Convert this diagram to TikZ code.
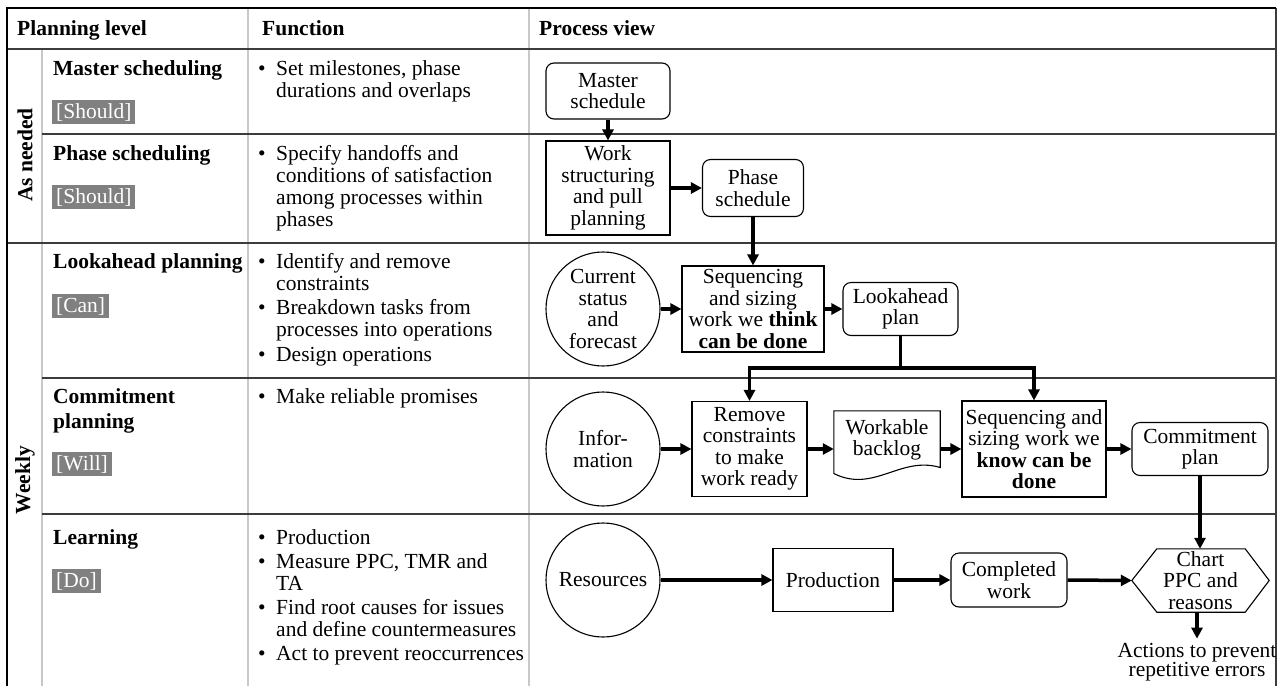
\documentclass[tikz,border=0pt]{standalone}
\usepackage{fontspec}
\setmainfont{Liberation Serif}
\usetikzlibrary{arrows.meta,calc}
\definecolor{tagg}{RGB}{128,128,128}
\definecolor{gridg}{RGB}{200,200,200}
\definecolor{rowl}{RGB}{60,60,60}
\begin{document}
\begin{tikzpicture}[x=1pt,y=-1pt,
  every node/.style={font=\fontsize{21.5}{21.5}\selectfont},
  box/.style={draw, line width=1.1pt, inner sep=0pt, align=center},
  rbox/.style={box, rounded corners=8pt},
  circ/.style={draw, circle, line width=1.1pt, minimum size=114pt, inner sep=0pt, align=center},
  arr/.style={line width=3.5pt, -{Triangle[length=11pt,width=11pt]}},
  bar/.style={line width=3.5pt},
  tagbox/.style={fill=tagg, text=white, inner xsep=4pt, inner ysep=3pt, anchor=west},
  ttl/.style={anchor=base west, inner sep=0pt, font=\fontsize{21.5}{21.5}\selectfont\bfseries},
  fn/.style={anchor=base west, inner sep=0pt},
  rot/.style={rotate=90, inner sep=0pt, font=\fontsize{21.5}{21.5}\selectfont\bfseries}
]
\useasboundingbox (0,0) rectangle (1282,686);
\fill[white] (0,0) rectangle (1282,686);

% grid lines
\draw[gridg, line width=1.5pt] (42,49) -- (42,686);
\draw[gridg, line width=1.5pt] (248,8) -- (248,686);
\draw[gridg, line width=1.5pt] (529,8) -- (529,686);
\draw[rowl, line width=1.5pt] (7,49) -- (1276,49);
\draw[rowl, line width=1.5pt] (42,134) -- (1276,134);
\draw[rowl, line width=1.5pt] (7,243) -- (1276,243);
\draw[rowl, line width=1.5pt] (42,378) -- (1276,378);
\draw[rowl, line width=1.5pt] (42,514) -- (1276,514);
\draw[rowl, line width=1.5pt] (1276,8) -- (1276,686);
\draw[black, line width=2pt] (7,686) -- (7,8) -- (1276,8);

% header
\node[ttl] (h1) at (17,35) {Planning level};
\node[ttl] (h2) at (262,35) {Function};
\node[ttl] (h3) at (539,35) {Process view};

% group labels
\node[rot] (g1) at (25,155) {As needed};
\node[rot] (g2) at (25,480) {Weekly};

% row titles
\node[ttl] (t1) at (53,75) {Master scheduling};
\node[ttl] (t2) at (53,160) {Phase scheduling};
\node[ttl] (t3) at (53,268) {Lookahead planning};
\node[ttl] (t4a) at (53,403) {Commitment};
\node[ttl] (t4b) at (53,428) {planning};
\node[ttl] (t5) at (53,544) {Learning};

% tags
\node[tagbox] (s1) at (52,112) {[Should]};
\node[tagbox] (s2) at (52,197) {[Should]};
\node[tagbox] (s3) at (52,306) {[Can]};
\node[tagbox] (s4) at (52,464) {[Will]};
\node[tagbox] (s5) at (52,581) {[Do]};

% functions
\node[fn] (b1) at (258,75) {•};
\node[fn] (f1a) at (276,75) {Set milestones, phase};
\node[fn] (f1b) at (276,97) {durations and overlaps};

\node[fn] (b2) at (258,160) {•};
\node[fn] (f2a) at (276,160) {Specify handoffs and};
\node[fn] (f2b) at (276,182) {conditions of satisfaction};
\node[fn] (f2c) at (276,204) {among processes within};
\node[fn] (f2d) at (276,226) {phases};

\node[fn] (b3a) at (258,268) {•};
\node[fn] (f3a) at (276,268) {Identify and remove};
\node[fn] (f3b) at (276,290) {constraints};
\node[fn] (b3b) at (258,314) {•};
\node[fn] (f3c) at (276,314) {Breakdown tasks from};
\node[fn] (f3d) at (276,336) {processes into operations};
\node[fn] (b3c) at (258,361) {•};
\node[fn] (f3e) at (276,361) {Design operations};

\node[fn] (b4) at (258,403) {•};
\node[fn] (f4a) at (276,403) {Make reliable promises};

\node[fn] (b5a) at (258,544) {•};
\node[fn] (f5a) at (276,544) {Production};
\node[fn] (b5b) at (258,568) {•};
\node[fn] (f5b) at (276,568) {Measure PPC, TMR and};
\node[fn] (f5c) at (276,590) {TA};
\node[fn] (b5c) at (258,614) {•};
\node[fn] (f5d) at (276,614) {Find root causes for issues};
\node[fn] (f5e) at (276,636) {and define countermeasures};
\node[fn] (b5d) at (258,660) {•};
\node[fn] (f5f) at (276,660) {Act to prevent reoccurrences};

% process view nodes
\node[rbox, minimum width=124pt, minimum height=56pt] (master) at (608,91) {Master\\schedule};
\node[box, minimum width=124pt, minimum height=94pt] (work) at (608,188) {Work\\structuring\\and pull\\planning};
\node[rbox, minimum width=101pt, minimum height=57pt] (phase) at (753,188) {Phase\\schedule};

\node[circ] (cur) at (603,309) {Current\\status\\and\\forecast};
\node[box, minimum width=142pt, minimum height=86pt] (seqA) at (753,309) {Sequencing\\and sizing\\work we \textbf{think}\\\textbf{can be done}};
\node[rbox, minimum width=115pt, minimum height=53pt] (look) at (900.5,309) {Lookahead\\plan};

\node[circ] (info) at (603,449) {Infor-\\mation};
\node[box, minimum width=115pt, minimum height=95pt] (remove) at (749.5,449) {Remove\\constraints\\to make\\work ready};
\node[minimum width=106pt, minimum height=69pt, inner sep=0pt] (backlog) at (887,445.5) {};
\node[align=center, inner sep=0pt] (backlogtxt) at (887,440) {Workable\\backlog};
\node[box, minimum width=144pt, minimum height=96pt] (seqB) at (1034,449) {Sequencing and\\sizing work we\\\textbf{know can be}\\\textbf{done}};
\node[rbox, minimum width=136pt, minimum height=53pt] (commit) at (1200,449) {Commitment\\plan};

\node[circ] (res) at (603,580) {Resources};
\node[box, minimum width=120pt, minimum height=63pt] (prod) at (833,580) {Production};
\node[rbox, minimum width=116pt, minimum height=54pt] (done) at (1009,580) {Completed\\work};
\node[minimum width=137pt, minimum height=63pt, inner sep=0pt] (chart) at (1200.5,580.5) {};
\node[align=center, inner sep=0pt] (charttxt) at (1200.5,580.5) {Chart\\PPC and\\reasons};
\node[align=center, font=\fontsize{21.5}{19.5}\selectfont, inner sep=4pt] (actions) at (1197,662) {Actions to prevent\\repetitive errors};

% document shape for backlog
\draw[line width=1.1pt] (backlog.north west) -- (backlog.north east) -- ($(backlog.east)+(0,22)$)
  .. controls ($(backlog.east)+(-40,10)$) and ($(backlog.west)+(40,48)$) .. ($(backlog.west)+(0,28)$) -- cycle;
% hexagon for chart
\draw[line width=1.1pt] (chart.west) -- ($(chart.north west)+(25,0)$) -- ($(chart.north east)+(-24,0)$)
  -- (chart.east) -- ($(chart.south east)+(-24,0)$) -- ($(chart.south west)+(25,0)$) -- cycle;

% connectors
\draw[arr] (master) -- (work);
\draw[arr] (work) -- (phase);
\draw[arr] (phase) -- (seqA);
\draw[arr] (cur) -- (seqA);
\draw[arr] (seqA) -- (look);
\draw[bar] (look.south) -- ++(0,32) coordinate (split);
\draw[arr] ([xshift=1.75pt]split) -| (remove.north);
\draw[arr] ([xshift=-1.75pt]split) -| (seqB.north);
\draw[arr] (info) -- (remove);
\draw[arr] (remove.east) -- (backlog.west |- remove.east);
\draw[arr] (backlog.east |- seqB.west) -- (seqB.west);
\draw[arr] (seqB) -- (commit);
\draw[arr] (commit.south) -- (chart.north -| commit.south);
\draw[arr] (res) -- (prod);
\draw[arr] (prod) -- (done);
\draw[arr] (done.east) -- (chart.west);
\draw[arr] (chart.south -| actions.north) -- (actions.north);
\end{tikzpicture}
\end{document}
